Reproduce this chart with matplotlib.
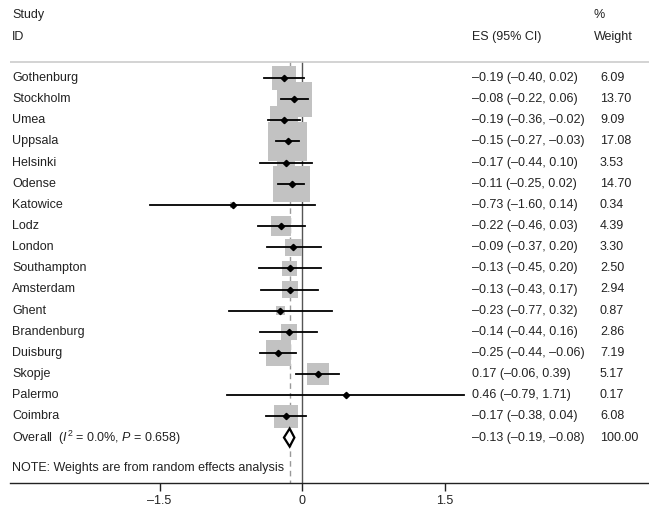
import matplotlib
matplotlib.use("Agg")
import matplotlib.pyplot as plt
from matplotlib.patches import Rectangle, Polygon
import numpy as np

plt.rcParams['font.family'] = ['Liberation Sans', 'DejaVu Sans']
plt.rcParams['mathtext.fontset'] = 'custom'
plt.rcParams['mathtext.rm'] = 'Liberation Sans'
plt.rcParams['mathtext.it'] = 'Liberation Sans:italic'
plt.rcParams['text.color'] = '#222222'
plt.rcParams['xtick.color'] = '#222222'

# study data
studies = ["Gothenburg", "Stockholm", "Umea", "Uppsala", "Helsinki", "Odense",
           "Katowice", "Lodz", "London", "Southampton", "Amsterdam", "Ghent",
           "Brandenburg", "Duisburg", "Skopje", "Palermo", "Coimbra"]
es = [-0.19, -0.08, -0.19, -0.15, -0.17, -0.11, -0.73, -0.22, -0.09, -0.13,
      -0.13, -0.23, -0.14, -0.25, 0.17, 0.46, -0.17]
lo = [-0.40, -0.22, -0.36, -0.27, -0.44, -0.25, -1.60, -0.46, -0.37, -0.45,
      -0.43, -0.77, -0.44, -0.44, -0.06, -0.79, -0.38]
hi = [0.02, 0.06, -0.02, -0.03, 0.10, 0.02, 0.14, 0.03, 0.20, 0.20,
      0.17, 0.32, 0.16, -0.06, 0.39, 1.71, 0.04]
weight = [6.09, 13.70, 9.09, 17.08, 3.53, 14.70, 0.34, 4.39, 3.30, 2.50,
          2.94, 0.87, 2.86, 7.19, 5.17, 0.17, 6.08]

overall_es, overall_lo, overall_hi = -0.13, -0.19, -0.08
overall_label = r"Overall  ($\it{I}^2$ = 0.0%, $\it{P}$ = 0.658)"
overall_weight = "100.00"
xticks = [-1.5, 0, 1.5]

dash = "\u2013"
def fmt(v):
    s = "%.2f" % v
    return s.replace("-", dash)

W, H = 649, 517
fig = plt.figure(figsize=(W / 100, H / 100), dpi=100)
ax = fig.add_axes([10 / W, (H - 483) / H, 639 / W, 483 / H])

# pixel scale: 95 px per unit, zero at x=302 px; rows 21.15 px apart from y=78
pxu = 95.0
row = 21.15
ax.set_xlim((10 - 302) / pxu, (649 - 302) / pxu)
ax.set_ylim((483 - 78) / row, -78 / row)

def xd(px):
    return (px - 302) / pxu

def yd(px):
    return (px - 78) / row

fs = 9.0
n = len(studies)
y_over = n
y_top = yd(62)
y_bot = yd(483)

# reference lines
ax.plot([0, 0], [y_top, y_bot], color="#555555", lw=1.0, zorder=1)
ax.plot([overall_es, overall_es], [y_top, y_bot], color="#999999", lw=1.0,
        ls=(0, (4, 3)), zorder=1)
ax.plot([xd(10), xd(649)], [y_top, y_top], color="#cccccc", lw=1.2, zorder=1)

k = 9.46  # box side in px per sqrt(weight)
for i in range(n):
    side = k * np.sqrt(weight[i])
    ax.add_patch(Rectangle((es[i] - side / 2 / pxu, i - side / 2 / row),
                           side / pxu, side / row, facecolor="#c2c2c2",
                           edgecolor="none", zorder=2))
    ax.plot([lo[i], hi[i]], [i, i], color="black", lw=1.3, zorder=3)
    ax.plot(es[i], i, marker="D", ms=3.2, color="black", zorder=4)
    ax.text(xd(12), i, studies[i], fontsize=fs, va="center", ha="left")
    ax.text(xd(472), i, "%s (%s, %s)" % (fmt(es[i]), fmt(lo[i]), fmt(hi[i])),
            fontsize=fs, va="center", ha="left")
    ax.text(xd(600), i, "%.2f" % weight[i], fontsize=fs, va="center", ha="left")

# overall diamond
dh = 9.0 / row
ax.add_patch(Polygon([[overall_lo, y_over], [overall_es, y_over - dh],
                      [overall_hi, y_over], [overall_es, y_over + dh]],
                     closed=True, facecolor="white", edgecolor="black",
                     lw=1.6, zorder=4))
ax.text(xd(12), y_over, overall_label, fontsize=fs, va="center", ha="left")
ax.text(xd(472), y_over, "%s (%s, %s)" % (fmt(overall_es), fmt(overall_lo),
                                          fmt(overall_hi)),
        fontsize=fs, va="center", ha="left")
ax.text(xd(600), y_over, overall_weight, fontsize=fs, va="center", ha="left")

ax.text(xd(12), yd(468), "NOTE: Weights are from random effects analysis",
        fontsize=fs, va="center", ha="left")

# headers
ax.text(xd(12), yd(15), "Study", fontsize=fs, va="center", ha="left")
ax.text(xd(12), yd(37), "ID", fontsize=fs, va="center", ha="left")
ax.text(xd(472), yd(37), "ES (95% CI)", fontsize=fs, va="center", ha="left")
ax.text(xd(594), yd(15), "%", fontsize=fs, va="center", ha="left")
ax.text(xd(594), yd(37), "Weight", fontsize=fs, va="center", ha="left")

for s in ["top", "left", "right"]:
    ax.spines[s].set_visible(False)
ax.spines["bottom"].set_color("#222222")
ax.spines["bottom"].set_linewidth(1.0)
ax.set_yticks([])
ax.set_xticks(xticks)
ax.set_xticklabels([("%g" % t).replace("-", dash) for t in xticks], fontsize=fs)
ax.tick_params(axis="x", length=6, width=1.0, color="#222222", pad=3)

fig.savefig("out.png", dpi=100)
